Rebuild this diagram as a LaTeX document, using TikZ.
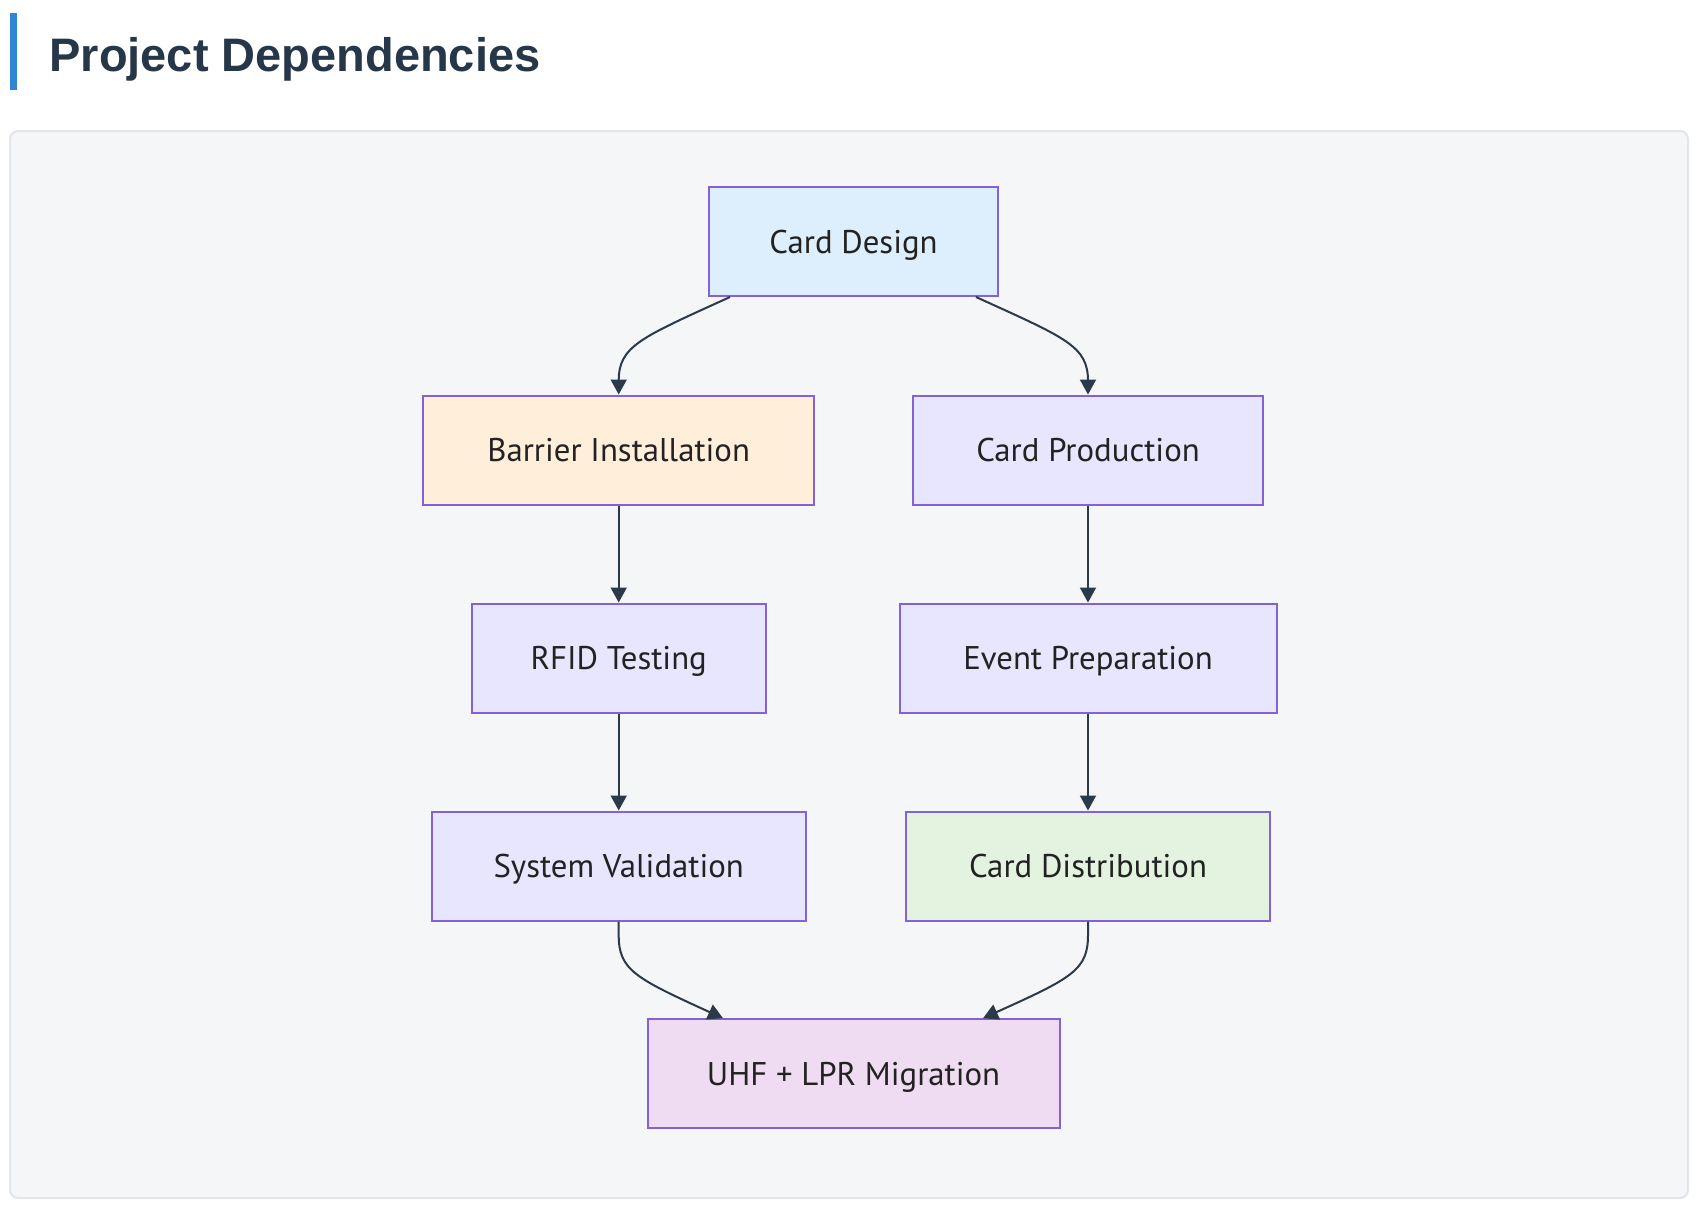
\documentclass[tikz,border=0pt]{standalone}
\usepackage{fontspec}
\setmainfont{PT Sans}
\newfontfamily\titlefont{Liberation Sans}
\usetikzlibrary{arrows.meta,calc}
\definecolor{panelfill}{HTML}{F5F6F8}
\definecolor{panelline}{HTML}{E2E5EA}
\definecolor{barblue}{HTML}{2F86D5}
\definecolor{titlec}{HTML}{253749}
\definecolor{nodeline}{HTML}{8461D6}
\definecolor{edgec}{HTML}{2B3A4B}
\definecolor{txtc}{HTML}{222222}
\definecolor{fillblue}{HTML}{DDEEFC}
\definecolor{fillorange}{HTML}{FFEFDA}
\definecolor{fillpurple}{HTML}{E8E6FE}
\definecolor{fillgreen}{HTML}{E4F3E0}
\definecolor{fillpink}{HTML}{F0DCF2}
\tikzset{
  taskbox/.style={draw=nodeline, line width=1pt, rectangle, inner sep=0pt,
    minimum height=54.5pt, text=txtc, font=\fontsize{16.4pt}{19pt}\selectfont,
    text height=11.5pt, text depth=0pt, fill=fillpurple},
  depedge/.style={draw=edgec, line width=1pt, -{Triangle[width=8pt,length=7.5pt]}}
}
\begin{document}
\begin{tikzpicture}[x=0.5pt,y=-0.5pt]
\useasboundingbox (0,0) rectangle (1698,1212);
\fill[white] (0,0) rectangle (1698,1212);
% title
\fill[barblue] (10,13) rectangle (17,90);
\node[anchor=base west, inner sep=0pt, text=titlec,
  font=\titlefont\bfseries\fontsize{23.5pt}{28pt}\selectfont] (title) at (49,71.5) {Project Dependencies};
% panel
\draw[fill=panelfill, draw=panelline, line width=1pt, rounded corners=4pt] (10,131) rectangle (1688,1198);
% nodes
\node[taskbox, fill=fillblue, minimum width=144.5pt] (cd) at (853.5,241.5) {Card Design};
\node[taskbox, fill=fillorange, minimum width=195.5pt] (bi) at (618.7,450) {Barrier Installation};
\node[taskbox, minimum width=175pt] (cp) at (1088,450) {Card Production};
\node[taskbox, minimum width=147pt] (rt) at (618.7,658) {RFID Testing};
\node[taskbox, minimum width=188.5pt] (ep) at (1088,658) {Event Preparation};
\node[taskbox, minimum width=187pt] (sv) at (618.7,866) {System Validation};
\node[taskbox, fill=fillgreen, minimum width=182pt] (cdist) at (1088,866) {Card Distribution};
\node[taskbox, fill=fillpink, minimum width=206pt] (uhf) at (853.5,1073.7) {UHF + LPR Migration};
% edges
\draw[depedge] ($(cd.south)+(-123.5,0)$) .. controls (640,338) and (618.7,346) .. (618.7,381) -- (bi.north);
\draw[depedge] ($(cd.south)+(122.5,0)$) .. controls (1066,338) and (1088,346) .. (1088,381) -- (cp.north);
\draw[depedge] (bi.south) -- (rt.north);
\draw[depedge] (rt.south) -- (sv.north);
\draw[depedge] (cp.south) -- (ep.north);
\draw[depedge] (ep.south) -- (cdist.north);
\draw[depedge] (sv.south) -- (618.7,935) .. controls (618.7,970) and (635,978) .. ($(uhf.north)+(-130.5,0)$);
\draw[depedge] (cdist.south) -- (1088,935) .. controls (1088,970) and (1072,978) .. ($(uhf.north)+(129.5,0)$);
\end{tikzpicture}
\end{document}
